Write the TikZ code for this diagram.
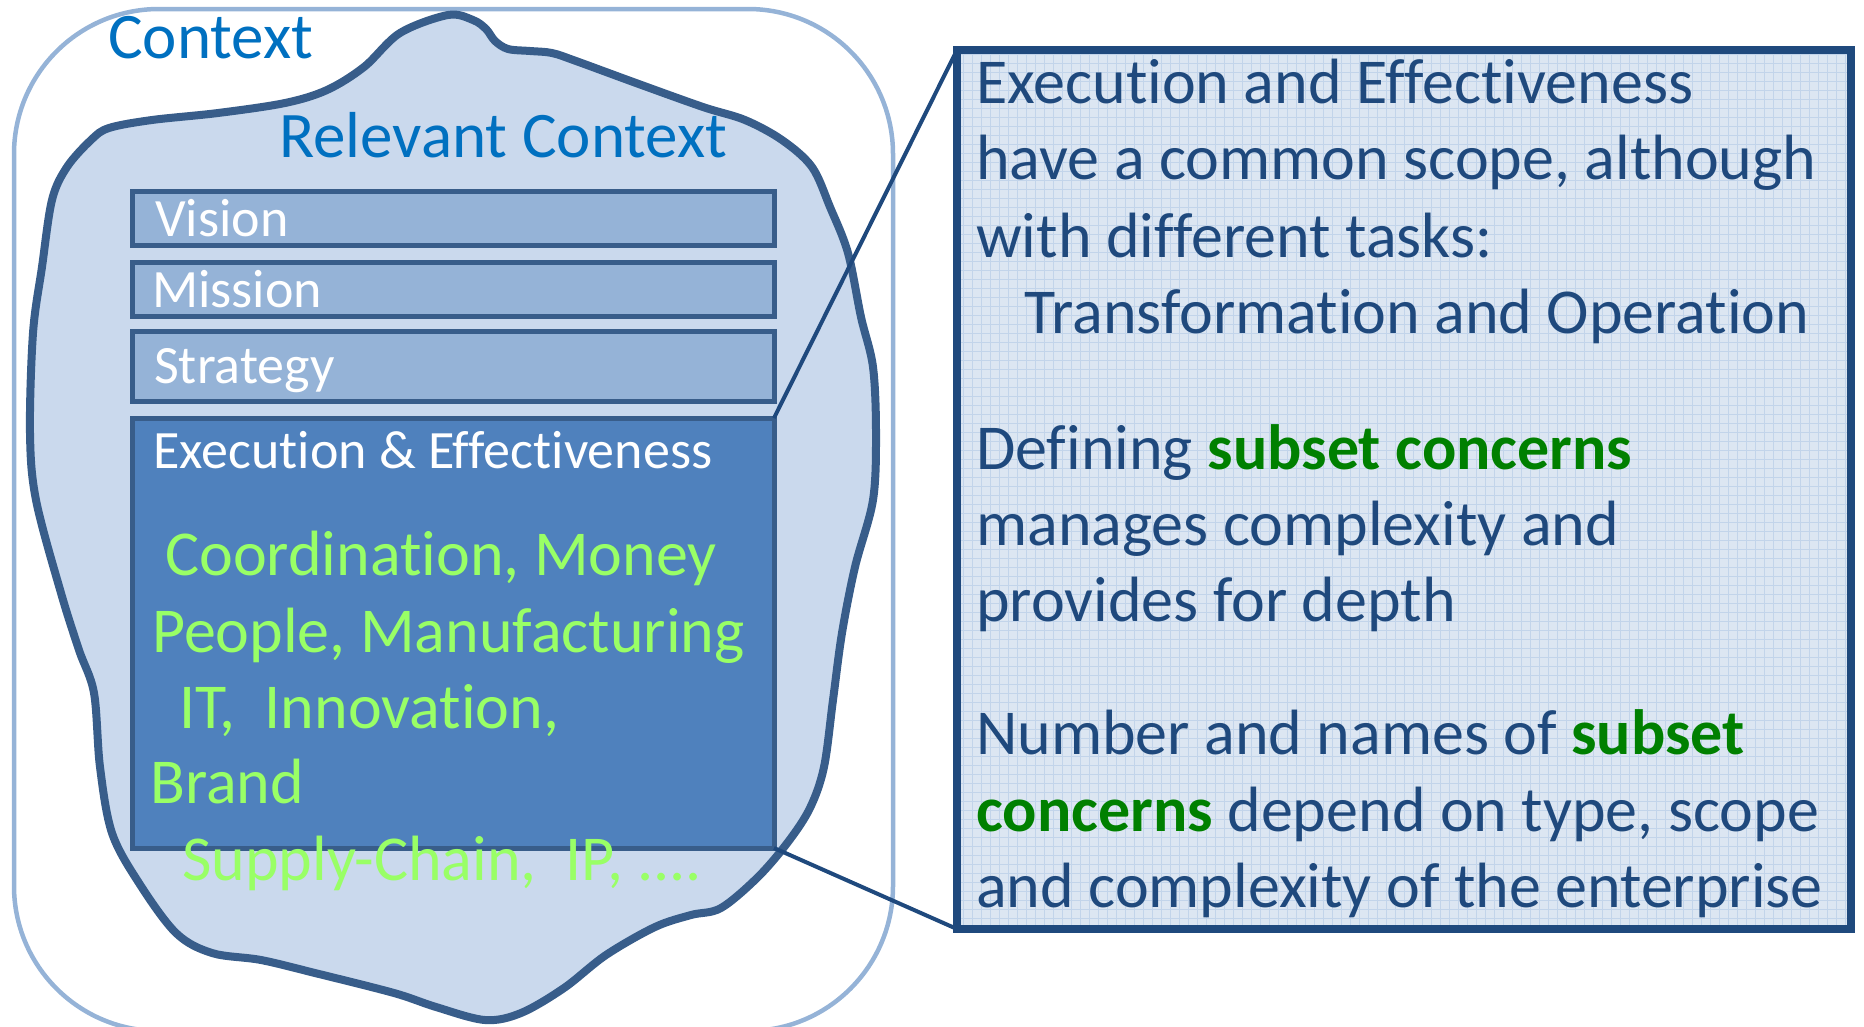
\documentclass[tikz,border=0pt]{standalone}
\usepackage{fontspec}
\setmainfont[Ligatures=NoCommon]{Carlito}
\definecolor{ctxline}{HTML}{95B3D7}
\definecolor{cloudline}{HTML}{385D8A}
\definecolor{cloudfill}{HTML}{CAD9ED}
\definecolor{layerfill}{HTML}{95B3D7}
\definecolor{execfill}{HTML}{4F81BD}
\definecolor{navy}{HTML}{1F497D}
\definecolor{panelfill}{HTML}{DCE6F2}
\definecolor{panelgrid}{HTML}{C2D4EA}
\definecolor{ctxblue}{HTML}{0070C0}
\definecolor{limegreen}{HTML}{99FF66}
\definecolor{concerngreen}{HTML}{008000}
\begin{document}
\begin{tikzpicture}[x=1pt,y=-1pt,
  ctxframe/.style={draw=ctxline, line width=4.5pt, rounded corners=145pt},
  cloud/.style={draw=cloudline, fill=cloudfill, line width=8pt, line join=round},
  layer/.style={shape=rectangle, draw=cloudline, fill=layerfill, line width=5pt, inner sep=0pt, outer sep=0pt, anchor=north west, minimum width=642pt},
  lbl/.style={inner sep=0pt, anchor=base west},
  title/.style={font=\fontsize{65}{78}\selectfont, text=ctxblue},
  big/.style={font=\fontsize{64}{77}\selectfont},
  small/.style={font=\fontsize{54}{65}\selectfont, text=white},
  zoomline/.style={draw=navy, line width=4pt}]
\useasboundingbox (0,0) rectangle (1864,1026);
\clip (0,0) rectangle (1864,1026);

\draw[ctxframe] (14,9) rectangle (893,1031);
\draw[cloud] plot[smooth cycle, tension=0.55] coordinates {
  (448,15) (473,20) (486,29) (495,41) (508,49) (530,51) (552,53) (576,61)
  (636,83) (703,107) (745,120) (782,140) (812,167) (830,207) (848,253)
  (861,317) (873,367) (876,433) (873,500) (855,567) (842,633) (833,700)
  (824,767) (810,808) (788,842) (758,877) (721,908) (691,915) (655,927)
  (606,955) (564,988) (521,1013) (485,1020) (436,1007) (394,993) (315,973)
  (261,960) (212,953) (176,933) (139,883) (112,833) (100,767) (94,693)
  (79,650) (61,593) (36,500) (30,433) (33,333) (42,267) (52,200) (67,167)
  (91,140) (109,128) (152,120) (218,113) (285,103) (327,90) (364,67) (400,33)};

\node[layer, minimum height=54pt] (vision) at (132,191) {};
\node[layer, minimum height=54pt] (mission) at (132,262) {};
\node[layer, minimum height=70pt] (strategy) at (132,331) {};
\node[layer, minimum height=430pt, fill=execfill] (exec) at (132,418) {};

\node[shape=rectangle, fill=panelfill, inner sep=0pt, outer sep=0pt, anchor=north west, minimum width=894pt, minimum height=879pt] (panel) at (957,50) {};
\draw[panelgrid, line width=0.8pt, step=9pt] (957,50) grid (1851,929);
\draw[navy, line width=8pt] (panel.north west) rectangle (panel.south east);

\draw[zoomline] (exec.north east) -- (panel.north west);
\draw[zoomline] (exec.south east) -- (panel.south west);

\node[lbl, title] (context) at (108,58) {Context};
\node[lbl, title] (relevant) at (279,157) {Relevant Context};

\node[lbl, small] (visiontxt) at (155,236) {Vision};
\node[lbl, small] (missiontxt) at (152,307) {Mission};
\node[lbl, small] (strategytxt) at (154,383) {Strategy};
\node[lbl, small] (exectxt) at (153,468) {Execution \& Effectiveness};

\node[lbl, big, text=limegreen] (g1) at (165,575) {Coordination, Money};
\node[lbl, big, text=limegreen] (g2) at (152,652) {People, Manufacturing};
\node[lbl, big, text=limegreen] (g3) at (179,728) {IT,~~Innovation,};
\node[lbl, big, text=limegreen] (g4) at (150,803) {Brand};
\node[lbl, big, text=limegreen] (g5) at (182,880) {Supply-Chain,~~IP, ....};

\node[lbl, big, text=navy] (p1) at (976,103) {Execution and Effectiveness};
\node[lbl, big, text=navy] (p2) at (976,179) {have a common scope, although};
\node[lbl, big, text=navy] (p3) at (976,257) {with different tasks:};
\node[lbl, big, text=navy] (p4) at (1024,333) {Transformation and Operation};
\node[lbl, big, text=navy] (p5) at (976,469) {Defining {\color{concerngreen}\bfseries subset concerns}};
\node[lbl, big, text=navy] (p6) at (976,545) {manages complexity and};
\node[lbl, big, text=navy] (p7) at (976,621) {provides for depth};
\node[lbl, big, text=navy] (p8) at (976,754) {Number and names of {\color{concerngreen}\bfseries subset}};
\node[lbl, big, text=navy] (p9) at (976,831) {{\color{concerngreen}\bfseries concerns} depend on type, scope};
\node[lbl, big, text=navy] (p10) at (976,907) {and complexity of the enterprise};
\end{tikzpicture}
\end{document}
